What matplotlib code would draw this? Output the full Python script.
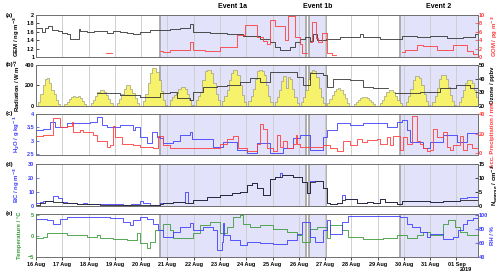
import datetime

import matplotlib
matplotlib.use("Agg")
import matplotlib.dates as mdates
import matplotlib.pyplot as plt
import numpy as np

plt.rcParams['font.family'] = ['Liberation Sans', 'DejaVu Sans']
plt.rcParams['font.weight'] = 'bold'
plt.rcParams['axes.labelweight'] = 'bold'

# all times in days after 16 Aug 2019 00:00
T_END = 16.8
events = [("Event 1a", 4.71, 10.27), ("Event 1b", 10.40, 11.02), ("Event 2", 13.86, T_END)]

# (a) GEM / GOM
gem_t = [0, 0.22, 0.34, 0.47, 0.6, 0.85, 0.98, 1.17, 1.29, 1.63, 1.67, 1.93, 2.2, 2.43, 2.7,
         2.94, 3.2, 3.45, 3.7, 3.95, 4.33, 4.71, 5.1, 5.48, 5.86, 5.97, 6.62, 7.26, 7.87,
         8.52, 8.9, 9.09, 9.28, 9.66, 9.85, 10.04, 10.23, 10.42, 10.53, 10.68, 11.03,
         11.18, 11.56, 12.32, 12.43, 13.08, 13.92, 14.49, 14.98, 15.63, 16.24, 16.7]
gem = [1.68, 1.6, 1.68, 1.73, 1.65, 1.62, 1.57, 1.55, 1.43, 1.67, 1.62, 1.6, 1.63, 1.62, 1.58,
       1.62, 1.6, 1.58, 1.56, 1.6, 1.64, 1.64, 1.66, 1.7, 1.79, 1.6, 1.58, 1.56, 1.5,
       1.44, 1.36, 1.25, 1.17, 1.25, 1.35, 1.44, 1.48, 1.38, 1.55, 1.4, 1.44,
       1.44, 1.48, 1.56, 1.48, 1.42, 1.5, 1.47, 1.5, 1.46, 1.48, 1.55]
gom_t = [2.66, 2.89, 4.71, 4.83, 5.1, 5.48, 5.86, 5.97, 6.43, 7.0, 7.64, 7.95, 8.4, 8.63,
         8.78, 8.9, 9.09, 9.47, 9.58, 9.85, 10.04, 10.11, 10.3, 10.42, 10.49, 10.65, 10.72,
         10.87, 11.06, 11.25, 11.4, 13.92, 14.03, 14.49, 14.71, 15.25, 15.86, 16.39, 16.62]
gom = [0.9, np.nan, 1.5, 1.2, 1.7, 1.6, 3.6, 1.7, 1.5, 2.5, 5.2, 7.6, 4.8, 3.8,
       3.2, 8.8, 7.5, 4.0, 9.8, 4.8, 3.0, 0.9, np.nan, 3.5, 8.4, 4.5, 3.6,
       5.7, 0.9, 0.5, np.nan, 1.3, 1.7, 2.9, 2.6, 1.7, 2.9, 1.5, 0.8]

# (b) radiation, 2-hourly values from 00 h for each day
radiation = [
    [0, 40, 120, 200, 260, 270, 220, 160, 120, 60, 20, 0],
    [0, 20, 40, 70, 90, 100, 90, 95, 80, 50, 20, 0],
    [0, 30, 60, 100, 140, 160, 160, 140, 110, 70, 30, 0],
    [0, 30, 70, 120, 170, 205, 200, 170, 130, 80, 30, 0],
    [0, 50, 120, 220, 320, 370, 370, 330, 250, 150, 60, 10],
    [0, 60, 90, 110, 130, 170, 190, 190, 170, 120, 60, 10],
    [0, 60, 100, 140, 250, 340, 350, 350, 320, 220, 120, 60],
    [0, 50, 100, 160, 250, 320, 350, 350, 300, 200, 110, 40],
    [0, 50, 100, 170, 260, 340, 350, 340, 300, 200, 100, 40],
    [0, 40, 90, 160, 240, 290, 180, 280, 260, 170, 90, 30],
    [0, 40, 90, 160, 260, 330, 350, 340, 280, 180, 90, 30],
    [0, 30, 70, 110, 150, 170, 175, 160, 120, 80, 30, 0],
    [0, 20, 40, 60, 80, 90, 90, 80, 60, 40, 20, 0],
    [0, 30, 60, 100, 140, 160, 160, 140, 100, 60, 30, 0],
    [0, 40, 100, 170, 250, 290, 295, 270, 200, 120, 50, 10],
    [0, 40, 100, 180, 260, 300, 300, 260, 190, 110, 50, 10],
    [0, 40, 90, 160, 220, 255, 250, 220, 160, 90],
]
ozone_t = [2.32, 3.19, 3.95, 4.71, 5.1, 5.36, 5.86, 5.97, 6.35, 6.88, 7.26, 7.76, 8.14, 8.52,
           8.9, 9.77, 9.92, 10.15, 10.42, 10.91, 11.06, 11.29, 11.94, 12.43, 12.81, 13.38,
           13.65, 14.6, 15.36, 16.0, 16.5]
ozone = [29.3, 28, 26.8, 29.3, 30, 25.6, 24.4, 30.5, 34, 34.5, 35.4, 37.8, 40.2, 37.8,
         45, 44.5, 41.4, 35.4, 44, 43, 34, 40, 39, 34, 33, np.nan,
         29.3, 30, 33, 35, 33.5]

# (c) water vapour / accumulated precipitation
h2o_t = [0, 0.27, 0.53, 0.72, 1.18, 2.05, 2.32, 2.51, 2.7, 3.2, 3.69, 3.75, 3.95, 4.22, 4.41,
         4.6, 4.71, 4.83, 5.21, 5.48, 5.86, 5.93, 6.73, 7.11, 7.64, 8.02, 8.4, 8.9, 9.39,
         9.77, 10.04, 10.42, 10.91, 11.06, 11.44, 11.94, 12.43, 13.35, 13.73, 13.92, 14.11,
         14.22, 14.71, 14.98, 15.48, 16.01, 16.39]
h2o = [3.4, 3.43, 3.71, 3.52, 3.65, 3.7, 3.88, 3.59, 3.52, 3.58, 3.4, 3.5, 3.15, 2.9, 3.34,
       3.15, 3.09, 2.9, 3.0, 3.21, 3.34, 3.05, 2.78, 2.96, 2.65, 2.53, 2.9, 2.53, 2.72,
       3.09, 3.21, 2.65, 3.15, 3.4, 3.65, 3.59, 3.65, 3.52, 3.71, 3.78, 3.4,
       2.96, 2.72, 2.96, 3.21, 2.96, 3.28]
precip_t = [0, 0.27, 0.65, 0.91, 1.18, 1.37, 1.41, 1.67, 1.79, 2.17, 2.32, 2.7, 2.81, 2.93,
            3.0, 3.27, 3.69, 3.95, 4.45, 4.64, 4.83, 5.1, 7.0, 7.26, 7.49, 7.68, 8.02, 8.4,
            8.52, 8.63, 8.78, 9.01, 9.16, 9.28, 9.39, 9.54, 9.77, 9.88, 9.95, 10.04, 10.91,
            11.18, 11.44, 11.67, 11.94, 12.2, 12.4, 12.59, 12.97, 13.08, 13.35, 13.46, 13.57,
            13.84, 13.95, 14.11, 14.3, 14.49, 14.6, 14.71, 14.87, 14.98, 15.1, 15.25, 15.48,
            15.63, 15.74, 15.86, 16.12, 16.24, 16.39, 16.58]
precip = [17.5, 19, 36, 27, 28, 31.5, 22, 23.7, 22, 19, 12.8, 6.5, 8, 28,
          16, 9.6, 8, 6.5, 5, 17.5, 8, 5, 9.6, 14, 17.5, 5, 2, 9.6,
          30, 25, 5, 2, 19, 6.5, 12.8, 5, 9.6, 19, 9.6, 6.5, 8,
          5, 2, 12.8, 8, 14, 11, 13, 14, 9.6, 16, 8, 17.5,
          3.5, 16, 9.6, 38, 12.8, 9.6, 5, 2, 3.5, 25, 16, 22,
          6.5, 3.5, 8, 17.5, 3.5, 9.6, 5]

# (d) black carbon / coarse particles
bc_t = [0, 0.15, 0.27, 0.65, 0.84, 0.99, 1.18, 1.56, 1.79, 1.94, 2.43, 3.3, 3.6, 3.95, 4.07,
        4.33, 4.71, 5.21, 5.67, 5.78, 5.97, 6.5, 7.0, 7.45, 7.76, 8.02, 8.21, 8.4, 8.63,
        8.9, 9.09, 9.28, 9.35, 9.77, 10.11, 10.3, 10.42, 10.91, 11.06, 11.18, 11.44, 11.63,
        11.75, 12.2, 12.59, 12.81, 13.08, 13.27, 13.73, 13.92, 14.98, 15.48, 16.12, 16.39]
bc = [2.4, 3, 3.8, 7, 5.5, 3, 2.4, 1.4, 2.4, 1.4, 1.2, 0.5, 1.2, 3.8, 2.4,
      0.7, 1.9, 3.1, 10.2, 2, 4.3, 6.2, 7.9, 9.5, 10.2, 15, 16.7, 12.6, 7.9,
      19, 21, 24, 22, 21, 17, 9, 18, 12.6, 1.9, 1.4, 1.9, 7.9,
      4.8, 1.9, 3.1, 1.9, 4.8, 3.1, 1.4, 3.8, 3.1, 3.8, 5.5, 6.6]
ncoarse_t = [0, 0.15, 0.34, 0.65, 1.03, 1.56, 2.43, 4.71, 4.83, 5.21, 5.67, 5.97, 6.5, 7.0,
             7.45, 7.76, 8.02, 8.21, 8.4, 8.63, 8.9, 9.09, 9.35, 9.77, 10.11, 10.3, 10.42,
             10.61, 10.91, 11.06, 11.18, 11.44, 11.63, 11.75, 12.2, 12.59, 12.81, 13.08,
             13.27, 13.73, 13.92, 14.98, 15.48, 16.12]
ncoarse = [0.36, 1.2, 1.9, 1.5, 1.0, 0.6, 0.25, 0.7, 1.2, 1.5, 1.2, 2.15, 3.1, 3.95,
           4.75, 5.1, 7.5, 8.35, 6.3, 3.95, 9.5, 10.5, 11, 10.5, 8.5, 4.5, 8.5,
           9, 6.3, 0.95, 0.7, 0.95, 2.15, 2.4, 0.95, 1.55, 0.95, 2.4,
           1.55, 0.7, 1.9, 1.55, 1.9, 2.15]

# (e) temperature / relative humidity
temp_t = [0, 0.27, 0.42, 0.65, 1.18, 1.94, 2.32, 2.43, 2.93, 3.46, 3.84, 3.95, 4.22, 4.33,
          4.52, 4.83, 5.1, 5.21, 5.97, 6.24, 6.62, 7.0, 7.26, 7.49, 7.76, 7.87, 8.14, 8.52,
          9.01, 9.54, 9.92, 10.11, 10.42, 10.68, 11.06, 11.18, 11.63, 11.86, 12.43, 13.19,
          13.73, 14.11, 14.49, 14.71, 14.98, 15.48, 15.67, 15.93, 16.12, 16.39]
temp = [-0.55, -0.3, 0.64, 0.8, 0.24, -0.3, 0.2, -0.55, -0.8, -0.95, 0.64, -1.7, -2.9, -1.4,
        1.4, 3.0, 1.4, -0.55, 0.64, 2.6, 3.4, 0.64, 2.2, 4.6, 5.0, 3.0, 2.2, 2.6,
        1.8, 1.0, 0.24, -1.4, 1.8, 2.2, -0.55, 2.6, 1.4, -0.2, -0.8, -0.55,
        0.24, -0.55, 0.24, 1.0, 0.24, 3.0, 3.8, 2.2, 1.0, 0.24]
rh_t = [0, 0.42, 0.65, 0.91, 1.18, 2.81, 3.31, 3.57, 3.69, 3.95, 4.22, 4.45, 4.64, 4.83,
        5.21, 5.48, 5.86, 5.97, 6.35, 6.73, 6.88, 7.07, 7.11, 7.14, 7.38, 7.76, 8.02, 8.52,
        9.01, 9.54, 9.92, 10.11, 10.42, 10.61, 10.91, 11.06, 11.18, 11.63, 11.86, 13.84,
        14.11, 14.3, 14.6, 14.87, 14.98, 15.48, 15.86, 16.05, 16.24, 16.39, 16.62]
rh = [94.4, 92.5, 87, 94, 96.6, 96, 89.6, 85, 92, 96.6, 94, 87, 78, 68.5,
      75.5, 82.6, 88, 78, 82.6, 78, 50, 61.5, 88, 71, 64, 57, 61.5, 60,
      59, 64, 73, 89.6, 68.5, 61.5, 78, 92, 73, 89.6, 97.6, 96.6,
      87, 82.6, 75.5, 68.5, 73, 66, 68.5, 78, 87, 92, 96]

BLUE = '#3d3dff'
RED = '#ff3b3b'
GREEN = '#3a9a3a'
FS = 4.3
TS = 4.0
BASE = mdates.date2num(datetime.datetime(2019, 8, 16))


def steps(t, v):
    t = np.append(np.asarray(t, float), T_END) + BASE
    v = np.append(np.asarray(v, float), v[-1])
    return t, v


def style_axis(ax, color):
    ax.tick_params(axis='y', labelsize=TS, colors=color, length=2, width=0.5, pad=1.2,
                   direction='in')
    for s in ax.spines.values():
        s.set_color('#707070')
        s.set_linewidth(0.6)


def labels(ax, ax2, left_text, left_color, right_text, right_color):
    ax.set_ylabel(left_text, fontsize=FS, color=left_color)
    ax2.set_ylabel(right_text, fontsize=FS, color=right_color)
    ax.yaxis.set_label_coords(-0.032, 0.5)
    ax2.yaxis.set_label_coords(1.028, 0.5)


fig = plt.figure(figsize=(5, 2.74), dpi=100)
left, width = 0.072, 0.883
boxes = [(0.792, 0.153), (0.613, 0.150), (0.434, 0.150), (0.248, 0.153), (0.062, 0.157)]
axes = []
for i, (y0, h) in enumerate(boxes):
    ax = fig.add_axes([left, y0, width, h])
    ax.set_xlim(BASE, BASE + T_END)
    ax.xaxis.set_major_locator(mdates.DayLocator())
    ax.xaxis.set_major_formatter(mdates.DateFormatter('%d %b'))
    ax.grid(axis='x', color='#cfcfcf', lw=0.7)
    for name, a, b in events:
        ax.axvspan(BASE + a, BASE + b, color='#e2e2fb', zorder=0, lw=0)
        for edge in (a, b):
            if edge < T_END:
                ax.axvline(BASE + edge, color='#a8a8a8', lw=1.3, zorder=1)
    if i < 4:
        ax.tick_params(axis='x', length=0, labelbottom=False)
    else:
        ax.tick_params(axis='x', labelsize=TS, length=2, width=0.5, pad=1.5)
    fig.text(0.012, y0 + h, "(%s)" % "abcde"[i], fontsize=FS, va='center')
    axes.append(ax)

for name, a, b in events:
    fig.text(left + width * (a + b) / 2 / T_END, 0.978, name, fontsize=5, ha='center',
             va='center')
fig.text(0.932, 0.018, "2019", fontsize=TS, ha='center', va='center')

# (a)
ax = axes[0]
ax2 = ax.twinx()
ax.plot(*steps(gem_t, gem), color='#333333', lw=0.6, zorder=3, drawstyle='steps-post')
ax2.plot(*steps(gom_t, gom), color=RED, lw=0.6, drawstyle='steps-post')
ax.set_ylim(1, 2)
ax.set_yticks([1, 1.2, 1.4, 1.6, 1.8, 2])
ax.set_yticklabels(['1', '1.2', '1.4', '1.6', '1.8', '2'])
ax2.set_ylim(0, 10)
ax2.set_yticks([0, 2, 4, 6, 8, 10])
labels(ax, ax2, 'GEM / ng m$^{-3}$', 'black', 'GOM / pg m$^{-3}$', RED)
style_axis(ax, 'black')
style_axis(ax2, RED)

# (b)
ax = axes[1]
ax2 = ax.twinx()
rad_t = np.concatenate([d + np.arange(len(r)) * 2 / 24 for d, r in enumerate(radiation)])
rad_v = np.concatenate([np.asarray(r, float) for r in radiation])
rt, rv = steps(rad_t, rad_v)
ax.fill_between(rt, 0, rv, step='post', facecolor='#f6f26c', edgecolor='#8a8a70', lw=0.4,
                zorder=2)
ax2.plot(*steps(ozone_t, ozone), color='#333333', lw=0.6, drawstyle='steps-post')
ax.set_ylim(0, 400)
ax.set_yticks([0, 200, 400])
ax2.set_ylim(20, 50)
ax2.set_yticks([20, 30, 40, 50])
labels(ax, ax2, 'Radiation / W m$^{-2}$', 'black', 'Ozone / ppbv', 'black')
style_axis(ax, 'black')
style_axis(ax2, 'black')

# (c)
ax = axes[2]
ax2 = ax.twinx()
ax.plot(*steps(h2o_t, h2o), color=BLUE, lw=0.6, zorder=3, drawstyle='steps-post')
ax2.plot(*steps(precip_t, precip), color=RED, lw=0.6, drawstyle='steps-post')
ax.set_ylim(2.46, 4)
ax.set_yticks([2.5, 3, 3.5, 4])
ax.set_yticklabels(['2.5', '3', '3.5', '4'])
ax2.set_ylim(-2, 40)
ax2.set_yticks([0, 20, 40])
labels(ax, ax2, 'H$_2$O / g kg$^{-1}$', BLUE, 'Acc. Precipitation / mm', RED)
style_axis(ax, BLUE)
style_axis(ax2, RED)

# (d)
ax = axes[3]
ax2 = ax.twinx()
ax.plot(*steps(bc_t, bc), color=BLUE, lw=0.6, zorder=3, drawstyle='steps-post')
ax2.plot(*steps(ncoarse_t, ncoarse), color='#222222', lw=0.6, drawstyle='steps-post')
ax.set_ylim(0, 30)
ax.set_yticks([0, 10, 20, 30])
ax2.set_ylim(0, 15)
ax2.set_yticks([0, 5, 10, 15])
labels(ax, ax2, 'BC / ng m$^{-3}$', BLUE, 'N$_{coarse}$ / cm$^{-3}$', 'black')
style_axis(ax, BLUE)
style_axis(ax2, 'black')

# (e)
ax = axes[4]
ax2 = ax.twinx()
ax.plot(*steps(temp_t, temp), color=GREEN, lw=0.6, zorder=3, drawstyle='steps-post')
ax2.plot(*steps(rh_t, rh), color=BLUE, lw=0.6, drawstyle='steps-post')
ax.set_ylim(-5, 5.3)
ax.set_yticks([-5, 0, 5])
ax2.set_ylim(40, 101)
ax2.set_yticks([40, 60, 80, 100])
labels(ax, ax2, 'Temperature / °C', GREEN, 'RH / %', BLUE)
style_axis(ax, GREEN)
style_axis(ax2, BLUE)

fig.savefig('out.png', dpi=100)
